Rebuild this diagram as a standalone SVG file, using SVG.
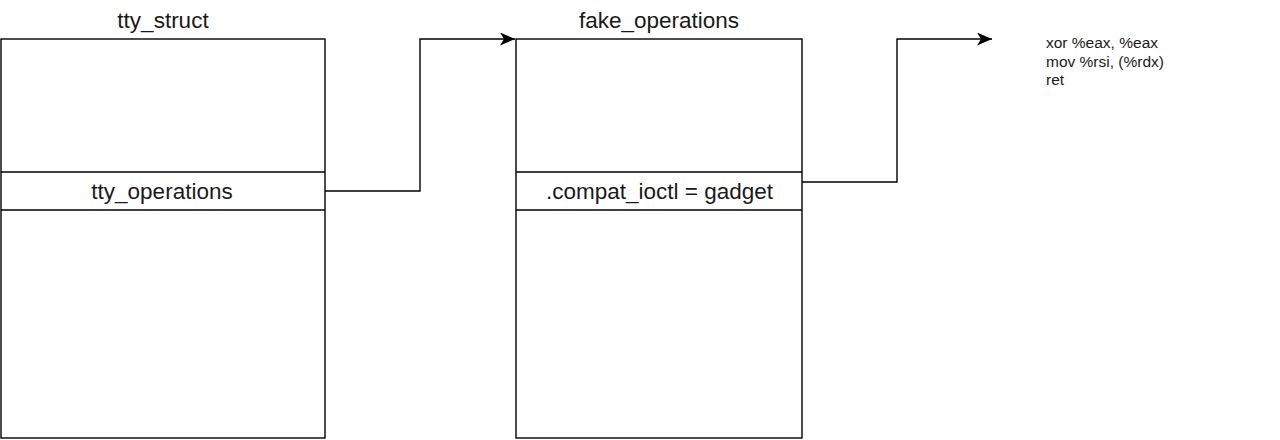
<svg xmlns="http://www.w3.org/2000/svg" width="1280" height="440" viewBox="0 0 1280 440">
  <style>
    .box { fill: #ffffff; stroke: #000000; stroke-width: 1.4; }
    .sep { stroke: #000000; stroke-width: 1.4; fill: none; }
    .edge { fill: none; stroke: #000000; stroke-width: 1.4; }
    .lbl { font-family: "Liberation Sans", Arial, Helvetica, sans-serif; font-size: 22.5px; fill: #1a1a1a; }
    .code { font-family: "Liberation Sans", Arial, Helvetica, sans-serif; font-size: 15.5px; fill: #1a1a1a; }
    .mid { text-anchor: middle; }
  </style>
  <defs>
    <marker id="arrow" markerUnits="userSpaceOnUse" viewBox="0 0 15 13" markerWidth="15" markerHeight="13" refX="15" refY="6.5" orient="auto">
      <path d="M0,0 L15,6.5 L0,13 L4,6.5 Z" fill="#000000"/>
    </marker>
  </defs>
  <rect width="1280" height="440" fill="#ffffff"/>

  <g id="tty_struct">
    <text class="lbl mid" x="163" y="27.5">tty_struct</text>
    <rect class="box" x="1" y="39" width="324" height="399"/>
    <line class="sep" x1="1" y1="172" x2="325" y2="172"/>
    <line class="sep" x1="1" y1="210" x2="325" y2="210"/>
    <text class="lbl mid" x="162" y="199">tty_operations</text>
  </g>

  <g id="fake_operations">
    <text class="lbl mid" x="659" y="27.5">fake_operations</text>
    <rect class="box" x="516" y="39" width="286" height="399"/>
    <line class="sep" x1="516" y1="172" x2="802" y2="172"/>
    <line class="sep" x1="516" y1="210" x2="802" y2="210"/>
    <text class="lbl mid" x="659.5" y="199">.compat_ioctl = gadget</text>
  </g>

  <g id="gadget">
    <text class="code" x="1046" y="48">xor %eax, %eax</text>
    <text class="code" x="1046" y="66.5">mov %rsi, (%rdx)</text>
    <text class="code" x="1046" y="85">ret</text>
  </g>

  <g id="connectors">
    <path class="edge" d="M325,191 L420,191 L420,39 L515,39" marker-end="url(#arrow)"/>
    <path class="edge" d="M802,182 L897,182 L897,39 L992,39" marker-end="url(#arrow)"/>
  </g>
</svg>
